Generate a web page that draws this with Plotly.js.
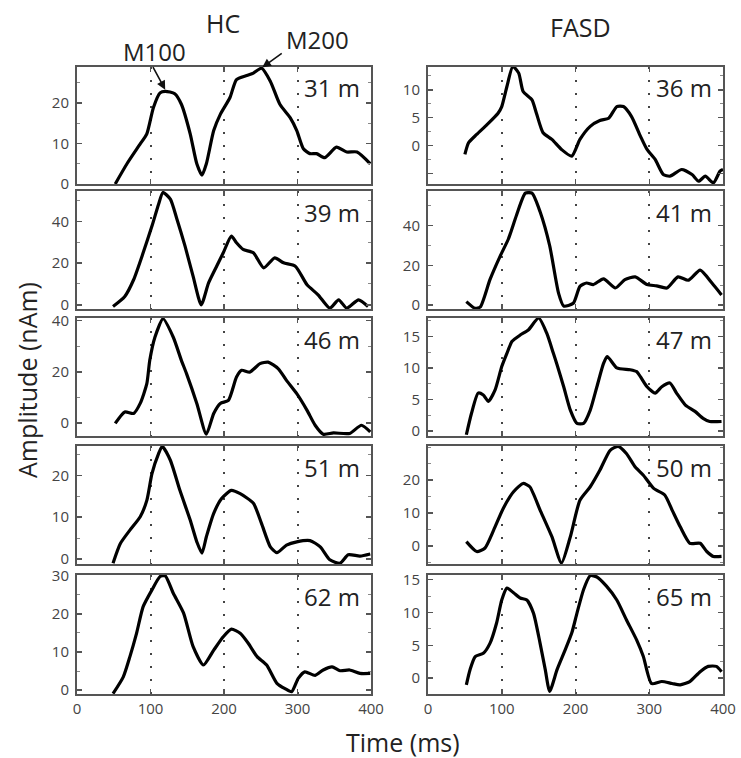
<!DOCTYPE html>
<html>
<head>
<meta charset="utf-8">
<script src="https://cdn.plot.ly/plotly-3.0.1.min.js"></script>
<style>html,body{margin:0;padding:0;background:#fff;}#chart{width:741px;height:758px;}</style>
</head>
<body>
<div id="chart"></div>
<script>
// ---------- DATA (time in ms, amplitude in nAm) ----------
const HC31_T = [52, 68, 86, 95, 104, 113, 120, 133, 142, 154, 163, 170, 176, 186, 195, 208, 217, 231, 240, 251, 263, 276, 290, 299, 308, 317, 326, 337, 353, 367, 381, 399];
const HC31_A = [0, 5.0, 9.9, 12.4, 18.9, 22.5, 22.9, 22.3, 19.7, 12.4, 5.0, 2.2, 5.0, 13.2, 17.2, 21.3, 25.8, 26.8, 27.4, 28.6, 25.4, 19.7, 16.4, 13.2, 8.7, 7.5, 7.5, 6.5, 9.1, 7.9, 7.9, 5.0];

const FASD36_T = [50, 55, 66, 80, 95, 100, 107, 115, 123, 129, 141, 147, 156, 168, 181, 195, 206, 220, 233, 245, 256, 265, 276, 288, 297, 308, 319, 328, 344, 358, 367, 376, 387, 396, 400];
const FASD36_A = [-1.6, 0.5, 2.0, 3.75, 5.8, 7.0, 10.6, 14.2, 13.0, 9.7, 8.2, 5.8, 2.3, 1.1, -0.7, -1.9, 1.1, 3.45, 4.5, 4.9, 7.0, 7.0, 5.2, 1.7, -0.7, -2.5, -5.2, -5.5, -4.3, -5.2, -6.4, -5.5, -6.7, -4.6, -4.3];

const HC39_T = [49, 65, 77, 90, 102, 111, 117, 127, 136, 147, 158, 169, 179, 190, 199, 210, 217, 226, 240, 254, 269, 281, 297, 313, 328, 344, 356, 367, 383, 396];
const HC39_A = [-0.8, 4, 12, 24.9, 37.7, 48.2, 53.8, 50.6, 41, 28.1, 13.6, 0, 10.5, 18.5, 24.9, 32.9, 29.7, 26.5, 24.9, 17.7, 22.5, 20.1, 18.5, 9.6, 4.8, -1.6, 2.4, -1.6, 2.4, -0.8];

const FASD41_T = [52, 64, 71, 84, 98, 109, 120, 132, 141, 152, 165, 177, 184, 197, 206, 215, 224, 238, 254, 267, 281, 297, 310, 324, 339, 353, 369, 385, 398];
const FASD41_A = [1.7, -1.7, -0.9, 12.8, 24.8, 33.3, 45.3, 56.4, 56.4, 47, 29.9, 6, -0.5, 0.9, 9.4, 11.1, 10.3, 13.2, 8.6, 12.8, 14.2, 10.3, 9.7, 8.6, 14.2, 12.5, 17.6, 11.1, 5.1];

const HC46_T = [52, 65, 77, 86, 95, 99, 106, 117, 131, 142, 149, 163, 176, 186, 195, 206, 217, 224, 235, 249, 260, 274, 285, 299, 313, 324, 335, 349, 371, 387, 399];
const HC46_A = [-0.1, 4.4, 3.8, 7.7, 15.4, 24.5, 33.5, 40.7, 33.5, 24.5, 19.3, 7.7, -4.3, 3.8, 7.7, 8.9, 18, 20.6, 19.9, 23.2, 23.8, 21.2, 16.7, 11.5, 5, -0.8, -4.3, -3.8, -4, -0.8, -3.4];

const FASD47_T = [52, 59, 68, 75, 82, 91, 100, 107, 114, 125, 136, 150, 161, 170, 175, 184, 193, 202, 211, 220, 229, 238, 243, 256, 274, 283, 288, 297, 308, 317, 328, 337, 349, 362, 373, 382, 398];
const FASD47_A = [-0.6, 2.8, 6, 5.7, 4.7, 6.5, 10.2, 12.3, 14.2, 15.2, 16, 17.9, 15.5, 12.3, 10.5, 7, 3.3, 1.2, 1.2, 3.3, 7, 10.7, 11.8, 10, 9.7, 9.4, 8.6, 7, 6, 7, 7.6, 6, 4.1, 3.1, 2, 1.5, 1.5];

const HC51_T = [49, 59, 72, 86, 95, 102, 111, 116, 127, 140, 154, 163, 170, 176, 186, 197, 210, 222, 240, 251, 263, 272, 285, 299, 317, 331, 344, 358, 369, 385, 399];
const HC51_A = [-1, 3.7, 6.9, 10.1, 14, 20.4, 25.2, 26.9, 23.6, 16.4, 9.3, 4.1, 1.4, 5.3, 10.9, 14.5, 16.4, 15.6, 13.3, 8.5, 2.9, 1.5, 3.3, 4.1, 4.4, 2.9, -0.2, -1, 1, 0.7, 1.2];

const FASD50_T = [52, 66, 77, 89, 102, 116, 129, 138, 152, 168, 181, 193, 206, 220, 233, 247, 258, 269, 281, 292, 306, 321, 331, 342, 355, 369, 378, 387, 398];
const FASD50_A = [1.3, -1.7, -0.7, 4.8, 11.4, 16.5, 19, 18, 10.9, 2.8, -5.2, 2.8, 13.9, 18, 23, 29.1, 30.3, 28.1, 24, 21.5, 17.5, 15.5, 10.9, 5.8, 0.8, 0.8, -1.7, -3.2, -3.2];

const HC62_T = [49, 63, 72, 81, 90, 102, 113, 120, 131, 145, 158, 172, 186, 199, 210, 222, 233, 245, 258, 272, 283, 292, 301, 310, 324, 335, 347, 358, 371, 385, 399];
const HC62_A = [-0.9, 3.5, 8.8, 14.9, 21.9, 26.3, 29.8, 30, 25.4, 20.2, 11.4, 6.6, 10.5, 14, 16, 14.9, 12.3, 8.8, 6.6, 1.8, 0.4, -0.4, 3.1, 4.8, 3.9, 5.3, 6.1, 5.1, 5.3, 4.4, 4.4];

const FASD65_T = [52, 57, 64, 75, 84, 93, 100, 107, 116, 125, 134, 143, 152, 159, 165, 175, 186, 195, 202, 211, 220, 229, 242, 256, 269, 283, 292, 303, 317, 331, 342, 355, 369, 380, 391, 398];
const FASD65_A = [-1, 1.3, 3.3, 3.8, 5.3, 8.4, 11.9, 13.7, 13, 12.2, 11.9, 9.9, 5.3, 1.3, -2, 1.3, 4.3, 6.9, 9.9, 13.5, 15.6, 15.4, 14, 11.9, 8.9, 5.8, 3.3, -0.8, -0.5, -0.8, -1, -0.5, 1, 1.8, 1.8, 1];

const GROUPS = ["HC", "FASD"];
const AGE_LABELS = [["31 m", "36 m"], ["39 m", "41 m"], ["46 m", "47 m"], ["51 m", "50 m"], ["62 m", "65 m"]];
const X_TICKS = [0, 100, 200, 300, 400];

// ---------- PANELS ----------
const panels = [
  [{t: HC31_T, a: HC31_A, range: [0, 28.9], ticks: [0, 10, 20], minor: 5},
   {t: FASD36_T, a: FASD36_A, range: [-6.9, 14.1], ticks: [-5, 0, 5, 10], hide: [-5], minor: 2.5}],
  [{t: HC39_T, a: HC39_A, range: [-2, 54.5], ticks: [0, 20, 40], minor: 10},
   {t: FASD41_T, a: FASD41_A, range: [-2, 57.5], ticks: [0, 20, 40], minor: 10}],
  [{t: HC46_T, a: HC46_A, range: [-5, 41], ticks: [0, 20, 40], minor: 10},
   {t: FASD47_T, a: FASD47_A, range: [-0.8, 17.9], ticks: [0, 5, 10, 15], minor: 2.5}],
  [{t: HC51_T, a: HC51_A, range: [-1.2, 27], ticks: [0, 10, 20], minor: 5},
   {t: FASD50_T, a: FASD50_A, range: [-5.5, 30.4], ticks: [0, 10, 20], minor: 5}],
  [{t: HC62_T, a: HC62_A, range: [-1, 30.2], ticks: [0, 10, 20, 30], minor: 5},
   {t: FASD65_T, a: FASD65_A, range: [-2.4, 15.7], ticks: [0, 5, 10, 15], minor: 2.5}]
];

const W = 741, H = 758;
const colPx = [[77, 371], [428, 723]];
const rowPx = [[67, 184], [191, 309], [318, 436], [446, 564], [575, 694]];

const FONT = "'Open Sans', 'DejaVu Sans', sans-serif";
const frameColor = '#555';
const traces = [];
const layout = {
  width: W, height: H,
  margin: {l: 0, r: 0, t: 0, b: 0},
  paper_bgcolor: '#fff', plot_bgcolor: '#fff',
  showlegend: false,
  font: {family: FONT, color: '#222'},
  annotations: []
};

panels.forEach((row, r) => {
  row.forEach((p, c) => {
    const idx = r * 2 + c + 1;
    const xn = 'xaxis' + (idx === 1 ? '' : idx);
    const yn = 'yaxis' + (idx === 1 ? '' : idx);
    const xr = 'x' + (idx === 1 ? '' : idx);
    const yr = 'y' + (idx === 1 ? '' : idx);
    traces.push({
      type: 'scatter', mode: 'lines', x: p.t, y: p.a, xaxis: xr, yaxis: yr,
      line: {color: '#000', width: 3.2, shape: 'spline', smoothing: 0.6},
      hoverinfo: 'skip'
    });
    layout[xn] = {
      domain: [colPx[c][0] / W, colPx[c][1] / W],
      anchor: yr, range: [0, 400],
      tickmode: 'array', tickvals: X_TICKS, ticktext: X_TICKS.map(String),
      showticklabels: r === 4,
      ticks: 'inside', ticklen: 5, tickwidth: 1.5, tickcolor: frameColor,
      showline: true, linecolor: frameColor, linewidth: 2, mirror: 'allticks',
      showgrid: true, gridcolor: '#444', gridwidth: 2, griddash: '2px,11px',
      zeroline: false,
      tickfont: {family: FONT, size: 15, color: '#444'},
      fixedrange: true
    };
    const hide = p.hide || [];
    layout[yn] = {
      domain: [1 - rowPx[r][1] / H, 1 - rowPx[r][0] / H],
      anchor: xr, range: p.range,
      tickmode: 'array', tickvals: p.ticks,
      ticktext: p.ticks.map(v => hide.includes(v) ? '' : String(v)),
      ticks: 'inside', ticklen: 5, tickwidth: 1.5, tickcolor: frameColor,
      minor: {tickmode: 'linear', tick0: 0, dtick: p.minor, ticks: 'inside', ticklen: 3, tickcolor: '#888', tickwidth: 1, showgrid: false},
      showline: true, linecolor: frameColor, linewidth: 2, mirror: 'allticks',
      showgrid: false, zeroline: false,
      ticklabelstandoff: 3,
      tickfont: {family: FONT, size: 15, color: '#444'},
      fixedrange: true
    };
    layout.annotations.push({
      xref: xr + ' domain', yref: yr + ' domain', x: 0.97, y: 1 - 21 / 117,
      xanchor: 'right', yanchor: 'middle', showarrow: false,
      text: AGE_LABELS[r][c], font: {family: FONT, size: 24, color: '#222'}
    });
  });
});

// Column titles
GROUPS.forEach((g, c) => {
  layout.annotations.push({
    xref: 'paper', yref: 'paper',
    x: (c === 0 ? 223 : 580) / W, y: 1 - (c === 0 ? 23 : 27) / H,
    xanchor: 'center', yanchor: 'middle', showarrow: false,
    text: g, font: {family: FONT, size: 25, color: '#222'}
  });
});

// Axis titles
layout.annotations.push({
  xref: 'paper', yref: 'paper', x: 27 / W, y: 1 - 380 / H,
  xanchor: 'center', yanchor: 'middle', showarrow: false, textangle: -90,
  text: 'Amplitude (nAm)', font: {family: FONT, size: 25, color: '#222'}
});
layout.annotations.push({
  xref: 'paper', yref: 'paper', x: 403 / W, y: 1 - 742 / H,
  xanchor: 'center', yanchor: 'middle', showarrow: false,
  text: 'Time (ms)', font: {family: FONT, size: 25, color: '#222'}
});

// Peak labels (HC, first panel)
layout.annotations.push({
  xref: 'paper', yref: 'paper', x: 154 / W, y: 1 - 52 / H,
  xanchor: 'center', yanchor: 'middle', showarrow: false,
  text: 'M100', font: {family: FONT, size: 24, color: '#222'}
});
layout.annotations.push({
  xref: 'paper', yref: 'paper', x: 317 / W, y: 1 - 40 / H,
  xanchor: 'center', yanchor: 'middle', showarrow: false,
  text: 'M200', font: {family: FONT, size: 24, color: '#222'}
});
layout.annotations.push({
  xref: 'x', yref: 'y', x: 120, y: 23.3, text: '', showarrow: true,
  ax: -13, ay: -24, arrowhead: 2, arrowsize: 1.1, arrowwidth: 1.6, arrowcolor: '#111'
});
layout.annotations.push({
  xref: 'x', yref: 'y', x: 252, y: 28.8, text: '', showarrow: true,
  ax: 21, ay: -15, arrowhead: 2, arrowsize: 1.1, arrowwidth: 1.6, arrowcolor: '#111'
});

Plotly.newPlot('chart', traces, layout, {staticPlot: true, displayModeBar: false});
</script>
</body>
</html>
